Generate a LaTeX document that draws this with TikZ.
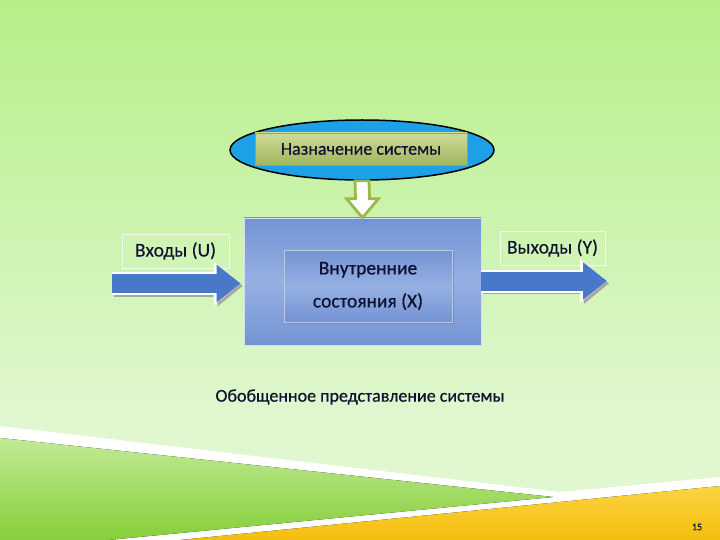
\documentclass[tikz,border=0pt]{standalone}
\usepackage{fontspec}
\setmainfont{Carlito}
\newfontfamily\slidefont{Carlito}[FakeBold=0.5]
\usetikzlibrary{calc,arrows.meta,shapes.geometric,shadows}

\definecolor{bgtop}{HTML}{B6EF88}
\definecolor{bgbot}{HTML}{E0F7D0}
\definecolor{wedgetop}{HTML}{C2EA96}
\definecolor{wedgebot}{HTML}{86CE3A}
\definecolor{yellowtop}{HTML}{FAD440}
\definecolor{yellowbot}{HTML}{F5BE0E}
\definecolor{goalblue}{HTML}{1CA0E6}
\definecolor{olivetop}{HTML}{CCDC98}
\definecolor{olivebot}{HTML}{A2B45E}
\definecolor{downgreen}{HTML}{9CB84A}
\definecolor{sysedge}{HTML}{7393D4}
\definecolor{syslight}{HTML}{96B0E2}
\definecolor{arrowblue}{HTML}{4A78C8}
\definecolor{darktext}{HTML}{101030}

\begin{document}
\begin{tikzpicture}[
        %We work in pixels and define some styles
        x=1pt, y=-1pt,
        big text/.style={font=\slidefont\fontsize{18}{21}\selectfont, text=darktext},
        box text/.style={font=\slidefont\fontsize{19.5}{22}\selectfont, text=darktext},
        goal/.style={ellipse, draw=black, line width=1.5pt, fill=goalblue,
            minimum width=264pt, minimum height=60pt},
        goal box/.style={big text, draw=black!40, top color=olivetop, bottom color=olivebot,
            minimum width=212pt, minimum height=32pt,
            drop shadow={shadow xshift=1pt, shadow yshift=-1.5pt, opacity=0.4}},
        system/.style={draw=white!70!sysedge, line width=0.6pt, top color=sysedge,
            bottom color=sysedge, middle color=syslight,
            minimum width=237pt, minimum height=127pt},
        state/.style={box text, draw=white!50!sysedge, align=center, top color=sysedge,
            bottom color=sysedge, middle color=syslight,
            minimum width=168pt, minimum height=72pt,
            drop shadow={shadow xshift=1.5pt, shadow yshift=-2pt, opacity=0.6}},
        label box/.style={box text, draw=white, draw opacity=0.7, line width=0.6pt,
            minimum height=34pt},
        hollow arrow/.style={fill=white, draw=downgreen, line width=2.8pt, line join=miter},
        block arrow/.style={line width=19pt, color=arrowblue,
            -{Triangle[length=24pt,width=36pt]},
            preaction={draw=black!35, line width=21pt,
                transform canvas={shift={(2pt,-2.5pt)}},
                -{Triangle[length=25pt,width=39pt]}},
            preaction={draw=white, line width=23pt,
                -{Triangle[length=27pt,width=42pt]}}}
     ]
\useasboundingbox (0,0) rectangle (720,540);
% background
\fill[top color=bgtop, bottom color=bgbot] (0,0) rectangle (720,420);
\fill[bgbot] (0,419) rectangle (720,540);
% bottom stripes
\fill[white] (0,426) -- (560,492) -- (720,477) -- (720,540) -- (0,540) -- cycle;
\fill[top color=wedgetop, bottom color=wedgebot]
    (0,438) -- (553,497) -- (108,540) -- (0,540) -- cycle;
\fill[top color=yellowtop, bottom color=yellowbot]
    (180,540) -- (720,486) -- (720,540) -- cycle;

% Nodes are placed
\node[goal] (goal) at (362,150) {};
\node[goal box] (goalbox) at (361,149) {Назначение системы};
\node[system] (sys) at (362.5,281.5) {};
\node[state] (state) at (368,286) {Внутренние\\[11pt]состояния (X)};
\node[label box, minimum width=107pt] (inlab) at (175.5,251) {Входы (U)};
\node[label box, minimum width=105pt] (outlab) at (552.5,248) {Выходы (Y)};
\node[big text] (caption) at (360,397) {Обобщенное представление системы};
\node[font=\slidefont\fontsize{10}{12}\selectfont, text=darktext] (page) at (697,527) {15};

% free ends of the arrows
\coordinate (in) at (112,283.5);
\coordinate (out) at (607,281);

% connectors
\draw[block arrow] (in) -- ($(sys.west |- in)+(-3,0)$);
\draw[block arrow] (sys.east |- out) -- (out);
\draw[hollow arrow]
    ($(goal.south)+(-7,0)$) -- ($(sys.north)+(-7,-19)$) -- ($(sys.north)+(-16,-19)$)
    -- (sys.north) -- ($(sys.north)+(16,-19)$) -- ($(sys.north)+(7,-19)$)
    -- ($(goal.south)+(7,0)$) -- cycle;
\end{tikzpicture}
\end{document}
